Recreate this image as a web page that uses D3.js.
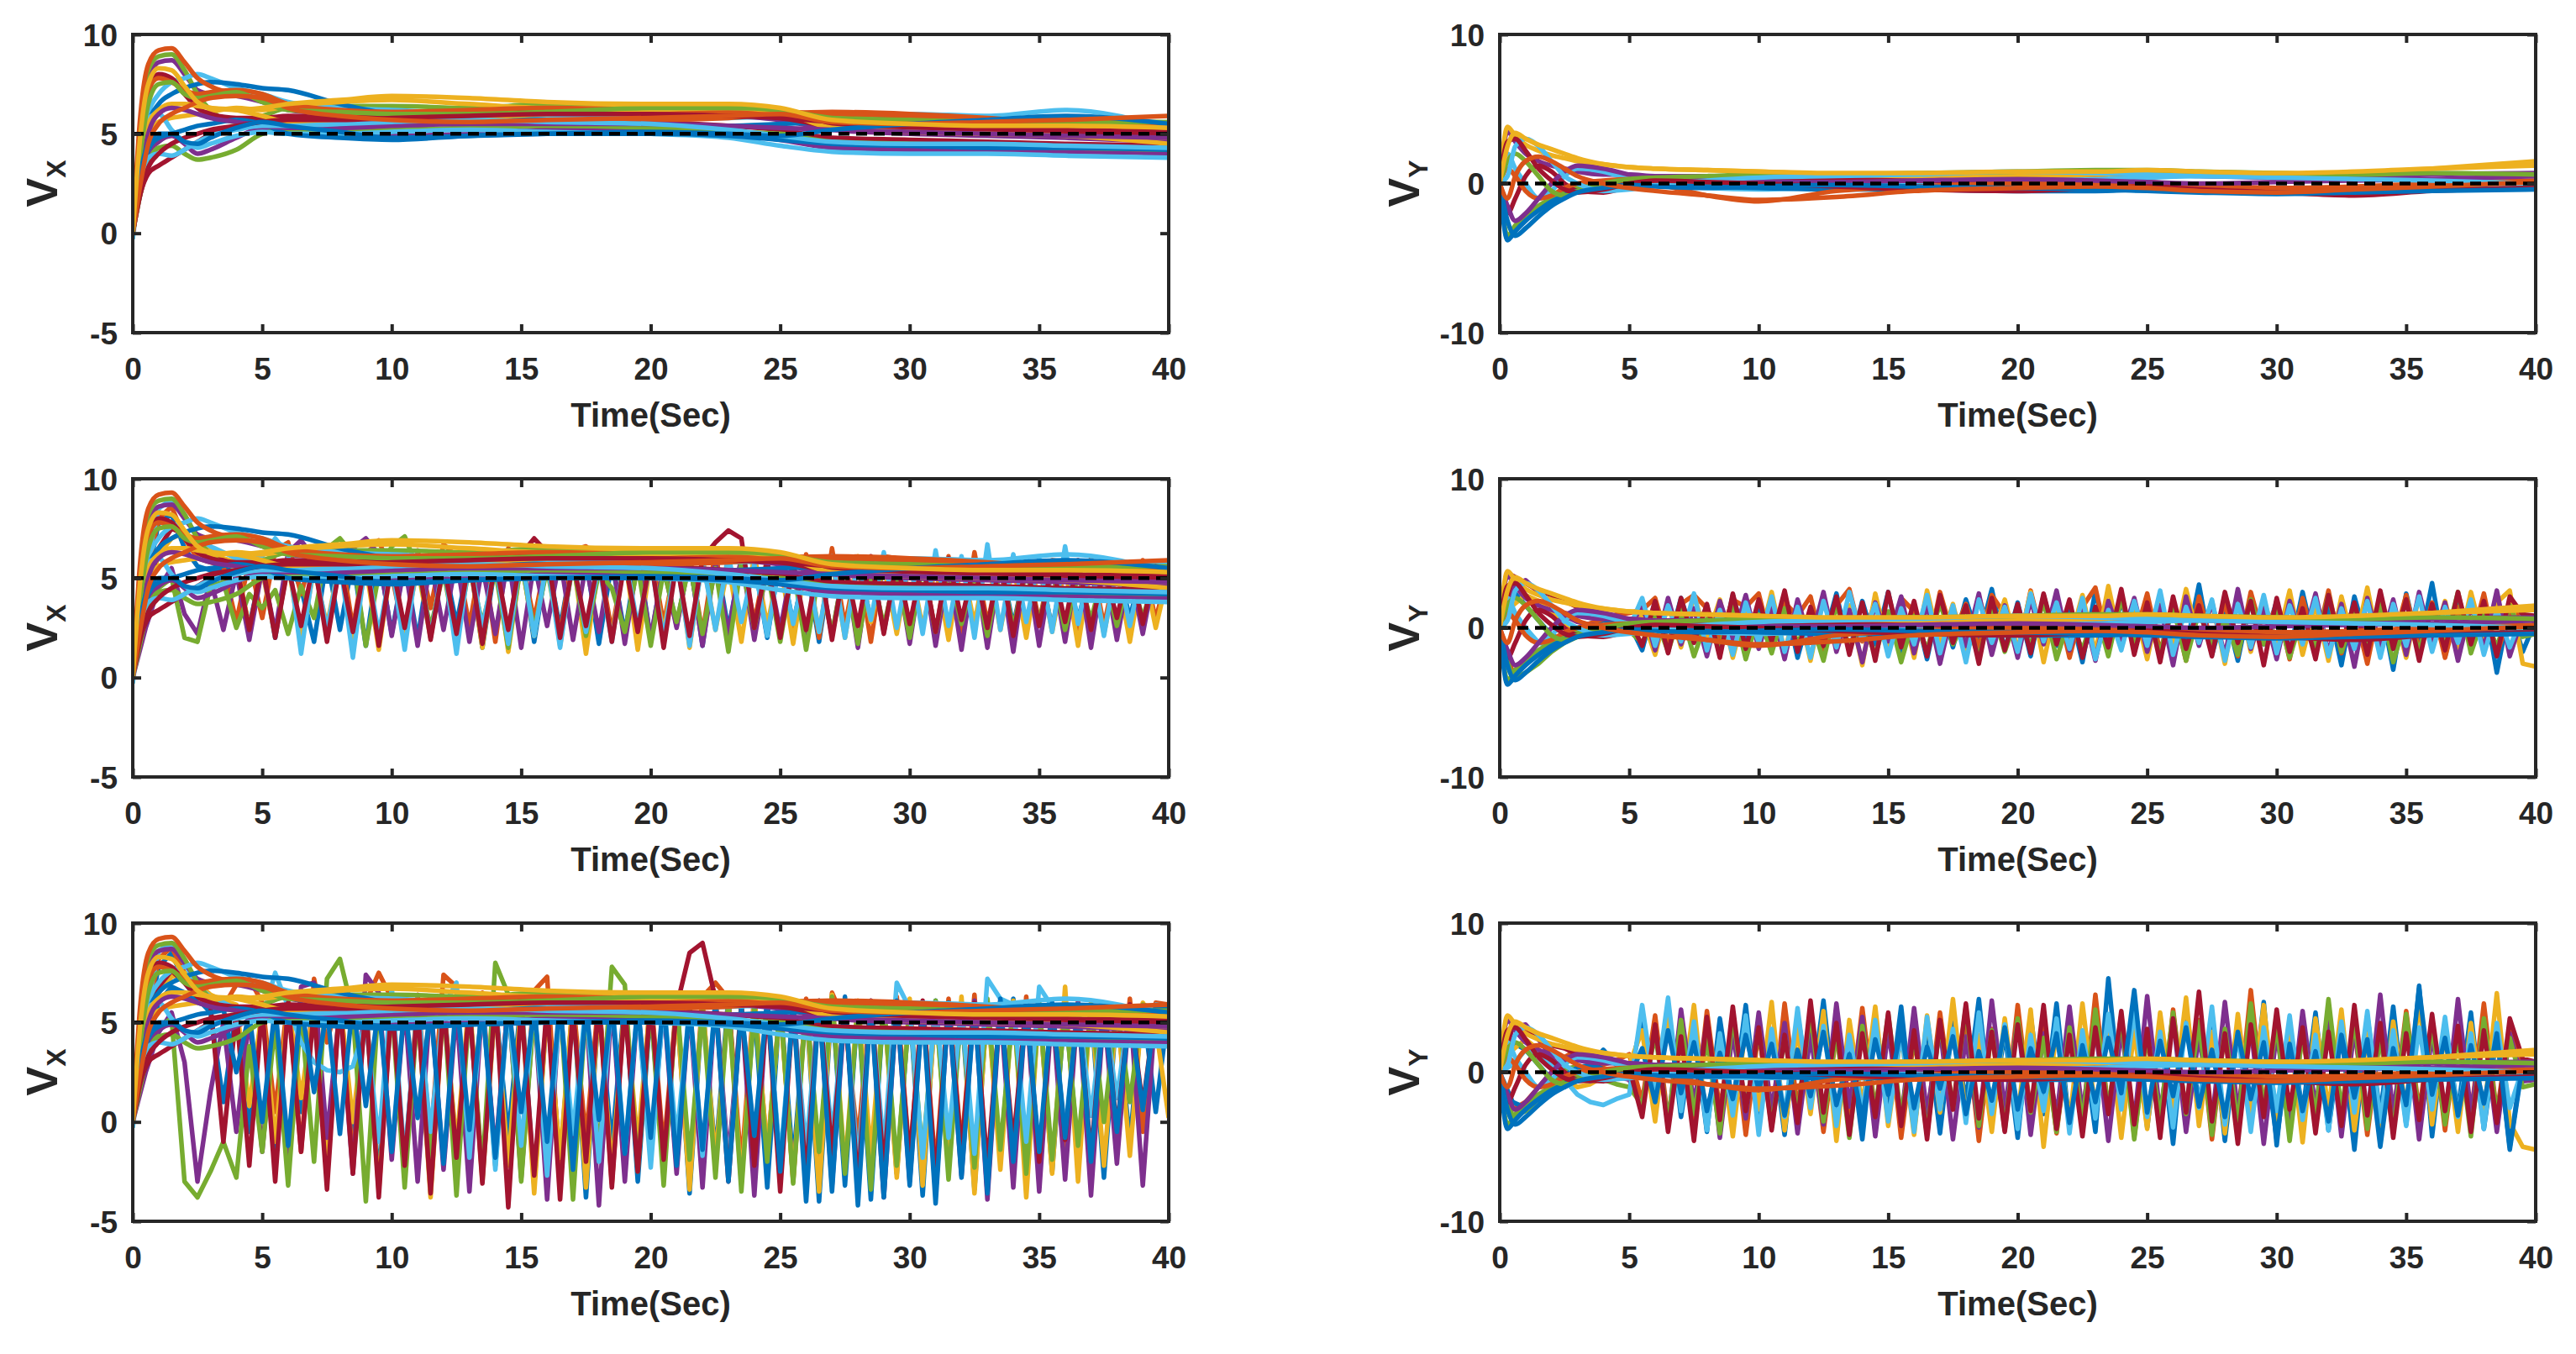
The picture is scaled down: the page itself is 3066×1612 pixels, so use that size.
<!DOCTYPE html>
<html>
<head>
<meta charset="utf-8">
<script src="https://cdn.jsdelivr.net/npm/d3@7"></script>
<style>
  body { margin: 0; background: #fff; }
</style>
</head>
<body>
<script>
// sample times
var tS = [0, 0.3, 0.6, 1, 1.5, 2, 2.5, 3, 4, 5, 6, 8, 10, 13, 16, 20, 23, 25, 27, 30, 33, 36, 40];
var tD = [0, 0.5, 1, 1.5, 2, 2.5, 3, 3.5, 4, 4.5, 5, 5.5, 6, 6.5, 7, 7.5, 8, 8.5, 9, 9.5,
          10, 10.5, 11, 11.5, 12, 12.5, 13, 13.5, 14, 14.5, 15, 15.5, 16, 16.5, 17, 17.5, 18, 18.5, 19, 19.5,
          20, 20.5, 21, 21.5, 22, 22.5, 23, 23.5, 24, 24.5, 25, 25.5, 26, 26.5, 27, 27.5, 28, 28.5, 29, 29.5,
          30, 30.5, 31, 31.5, 32, 32.5, 33, 33.5, 34, 34.5, 35, 35.5, 36, 36.5, 37, 37.5, 38, 38.5, 39, 39.5, 40];

var xTicks = [0, 5, 10, 15, 20, 25, 30, 35, 40];
var vxTicks = [-5, 0, 5, 10];
var vyTicks = [-10, 0, 10];
var vxRef = 5;
var vyRef = 0;

// V_X agents that settle smoothly (values at tS)
var vxSmooth = [
  [0, 4.5, 7.5, 8.6, 8.7, 8.0, 7.2, 7.0, 6.9, 6.6, 6.2, 6.0, 5.9, 5.9, 6.0, 6.0, 5.9, 5.7, 5.2, 5.0, 4.9, 4.8, 4.6],
  [0, 5.5, 8.2, 8.9, 9.0, 8.2, 7.0, 6.2, 5.6, 5.9, 6.3, 6.4, 6.4, 6.3, 6.5, 6.5, 6.4, 6.2, 5.6, 5.4, 5.3, 5.2, 5.0],
  [-0.3, 3.0, 6.0, 7.0, 7.6, 7.8, 8.0, 7.8, 7.3, 7.0, 6.6, 6.3, 6.2, 6.0, 5.9, 5.8, 5.8, 5.9, 6.0, 6.0, 5.9, 6.2, 5.3],
  [0, 2.0, 3.0, 3.4, 3.8, 4.2, 4.6, 5.0, 5.4, 5.6, 5.5, 5.4, 5.5, 5.6, 5.7, 5.6, 5.4, 5.2, 4.8, 4.7, 4.6, 4.5, 4.4],
  [0, 3.5, 5.5, 6.5, 7.0, 7.3, 7.5, 7.6, 7.5, 7.3, 7.2, 6.5, 6.0, 5.8, 5.7, 5.5, 5.4, 5.5, 5.6, 5.8, 5.7, 5.5, 5.2],
  [0, 6.0, 8.5, 9.2, 9.3, 8.6, 7.8, 7.4, 7.0, 6.8, 6.5, 6.1, 5.8, 5.6, 5.6, 5.7, 5.8, 6.0, 6.1, 6.0, 5.8, 5.5, 5.1],
  [0, 3.0, 5.0, 5.6, 5.8, 5.9, 6.0, 6.1, 6.3, 6.2, 6.4, 6.6, 6.7, 6.5, 6.3, 6.3, 6.2, 6.0, 5.6, 5.4, 5.2, 5.0, 4.8],
  [0, 2.5, 4.0, 4.6, 4.9, 4.5, 4.0, 4.2, 4.8, 5.3, 5.2, 5.0, 4.9, 5.0, 5.2, 5.2, 5.0, 4.7, 4.3, 4.2, 4.1, 4.1, 4.0],
  [0, 2.0, 3.5, 4.3, 4.4, 4.0, 3.7, 3.8, 4.2, 5.0, 5.2, 5.1, 5.2, 5.3, 5.4, 5.3, 5.1, 5.0, 4.6, 4.5, 4.4, 4.3, 4.2],
  [0, 4.0, 5.8, 6.0, 5.2, 4.6, 4.3, 4.5, 4.9, 5.1, 5.0, 5.0, 5.1, 5.2, 5.1, 5.0, 4.8, 4.4, 4.1, 4.0, 4.0, 3.9, 3.8],
  [0, 4.5, 7.0, 8.0, 7.8, 7.0, 6.3, 6.0, 5.8, 5.8, 5.9, 5.8, 5.9, 6.0, 6.1, 6.1, 6.0, 5.8, 5.4, 5.3, 5.2, 5.1, 4.9],
  [0, 2.5, 4.2, 4.8, 5.0, 5.2, 5.4, 5.5, 5.7, 5.5, 5.0, 4.8, 4.7, 4.9, 5.0, 5.0, 4.9, 4.7, 4.5, 4.4, 4.3, 4.3, 4.2],
  [0, 5.0, 7.2, 7.8, 7.6, 7.2, 7.0, 7.1, 7.2, 7.0, 6.5, 6.2, 6.1, 6.2, 6.3, 6.2, 6.1, 6.1, 6.0, 5.9, 5.7, 5.6, 5.5],
  [0, 3.5, 5.5, 6.2, 6.5, 6.5, 6.4, 6.3, 6.2, 5.9, 5.6, 5.6, 5.7, 5.8, 6.0, 6.2, 6.3, 6.1, 5.3, 5.1, 5.0, 4.9, 4.5],
  [0, 3.0, 5.0, 6.0, 6.3, 6.2, 6.0, 5.8, 5.6, 5.4, 5.3, 5.3, 5.4, 5.5, 5.5, 5.5, 5.4, 5.3, 5.2, 5.1, 5.0, 4.9, 4.8],
  [0, 4.0, 6.5, 7.5, 7.6, 7.0, 6.8, 6.9, 7.1, 6.6, 6.2, 6.1, 6.0, 6.0, 6.1, 6.3, 6.3, 6.2, 5.8, 5.7, 5.6, 5.6, 5.6],
  [0, 2.5, 3.8, 4.0, 3.9, 4.2, 4.6, 4.9, 5.2, 5.4, 5.4, 5.5, 5.6, 5.7, 5.6, 5.5, 5.2, 4.9, 4.6, 4.5, 4.5, 4.4, 4.3],
  [0, 2.0, 3.3, 4.0, 4.5, 4.8, 5.0, 5.2, 5.4, 5.6, 5.7, 5.7, 5.8, 5.9, 6.0, 6.0, 5.9, 5.8, 5.6, 5.4, 5.3, 5.2, 5.1],
  [0, 3.0, 4.5, 5.0, 5.0, 4.6, 4.5, 4.8, 5.3, 5.6, 5.4, 5.1, 4.8, 4.9, 5.0, 5.1, 5.0, 4.9, 5.2, 5.5, 5.7, 5.9, 5.5],
  [0, 2.5, 4.5, 5.5, 6.0, 6.3, 6.6, 6.8, 6.9, 6.8, 6.3, 5.9, 5.7, 5.6, 5.7, 5.8, 5.9, 6.0, 5.6, 5.5, 5.6, 5.7, 5.9],
  [0, 5.0, 7.5, 8.3, 8.2, 7.4, 6.6, 6.3, 6.2, 6.3, 6.5, 6.7, 6.9, 6.8, 6.6, 6.5, 6.5, 6.3, 5.7, 5.5, 5.4, 5.4, 5.3]
];

// V_Y agents that settle smoothly (values at tS)
var vySmooth = [
  [0, 3.5, 2.8, 2.0, 1.5, 1.2, 1.0, 0.8, 0.6, 0.6, 0.5, 0.5, 0.4, 0.3, 0.3, 0.4, 0.5, 0.6, 0.5, 0.4, 0.4, 0.6, 0.7],
  [0, -3.5, -2.8, -2.2, -1.5, -1.0, -0.6, -0.3, 0.0, 0.1, 0.0, -0.1, -0.2, -0.2, -0.1, -0.2, -0.3, -0.2, -0.3, -0.4, -0.3, -0.4, -0.3],
  [0, 2.0, 1.0, 0.0, -1.0, -0.5, 0.5, 1.0, 0.8, 0.3, 0.0, -0.3, -0.4, -0.2, 0.0, 0.2, 0.3, 0.4, 0.5, 0.5, 0.3, 0.2, 0.1],
  [0, -2.0, -1.0, 0.5, 1.2, 0.8, 0.0, -0.5, -0.6, -0.2, 0.1, 0.2, 0.3, 0.3, 0.2, 0.1, 0.0, -0.1, -0.2, -0.3, -0.5, -0.4, -0.3],
  [0, -3.8, -3.2, -2.5, -1.8, -1.2, -0.8, -0.5, -0.3, -0.2, -0.1, -0.2, -0.3, -0.4, -0.4, -0.5, -0.5, -0.4, -0.5, -0.6, -0.5, -0.4, -0.3],
  [0, 1.0, 0.5, -0.5, -1.0, -0.8, -0.3, 0.0, 0.2, 0.3, 0.0, -0.8, -1.2, -0.5, -0.2, 0.0, 0.0, 0.1, -0.2, -0.3, -0.2, 0.0, 0.2],
  [0, 3.8, 3.2, 2.6, 2.2, 1.9, 1.7, 1.5, 1.3, 1.1, 1.0, 0.9, 0.8, 0.6, 0.5, 0.5, 0.6, 0.7, 0.6, 0.6, 0.7, 1.0, 1.5],
  [0, -1.5, -2.5, -2.0, -1.0, 0.0, 0.8, 1.2, 1.0, 0.6, 0.3, 0.2, 0.1, 0.1, 0.2, 0.3, 0.2, 0.1, 0.0, 0.1, 0.2, 0.3, 0.5],
  [0, 1.5, 2.0, 1.5, 0.5, -0.5, -0.8, -0.5, 0.0, 0.3, 0.4, 0.5, 0.6, 0.6, 0.7, 0.8, 0.9, 0.9, 0.8, 0.7, 0.6, 0.7, 0.6],
  [0, 0.5, 2.5, 3.0, 2.5, 1.5, 0.5, 0.0, -0.5, -0.4, -0.1, 0.2, 0.4, 0.5, 0.6, 0.8, 0.7, 0.6, 0.5, 0.4, 0.3, 0.2, 0.0],
  [0, 2.8, 3.0, 2.2, 1.0, 0.2, -0.4, -0.6, -0.4, 0.0, 0.2, 0.1, 0.0, -0.2, -0.4, -0.5, -0.3, -0.2, -0.4, -0.6, -0.8, -0.5, -0.3],
  [0, -2.5, -3.5, -3.0, -2.2, -1.5, -1.0, -0.6, -0.3, -0.1, -0.2, -0.3, -0.2, -0.1, -0.2, -0.3, -0.4, -0.5, -0.6, -0.7, -0.6, -0.5, -0.4],
  [0, -1.0, 0.5, 1.5, 1.8, 1.5, 1.0, 0.5, 0.0, -0.3, -0.5, -0.8, -1.1, -0.9, -0.5, -0.3, -0.2, -0.3, -0.5, -0.6, -0.4, -0.2, 0.1],
  [0, 2.5, 3.4, 3.0, 2.6, 2.3, 2.0, 1.7, 1.3, 1.1, 1.0, 0.9, 0.8, 0.7, 0.7, 0.8, 0.8, 0.9, 0.8, 0.7, 0.8, 1.0, 1.2]
];

// oscillating V_X agents, middle row (values at tD)
var vxNoisyMid = [
  [0, 4.5, 7.8, 8.2, 6.5, 5.6, 5.4, 5.5, 5.3, 2.6, 5.6, 2.0, 5.8, 4.5, 1.8, 6.0, 2.4, 5.9, 1.6, 6.1,
   2.2, 5.8, 1.9, 6.3, 5.9, 2.7, 6.0, 1.5, 5.7, 2.3, 6.2, 1.8, 5.9, 2.5, 6.1, 6.0, 1.7, 5.8, 2.2, 6.3,
   1.9, 5.7, 2.6, 6.0, 1.6, 6.2, 2.4, 5.9, 5.8, 2.0, 6.1, 2.7, 5.8, 1.8, 6.0, 2.3, 5.9, 2.9, 5.6, 5.5,
   2.4, 5.7, 2.1, 5.8, 2.8, 5.6, 2.2, 5.9, 2.6, 5.7, 5.6, 2.5, 5.8, 2.9, 5.5, 2.3, 5.7, 3.0, 5.6, 5.5, 5.4],
  [0, 5.0, 8.0, 8.6, 7.0, 6.0, 5.8, 5.6, 2.8, 5.9, 3.0, 6.4, 6.8, 4.2, 6.5, 5.0, 6.6, 2.5, 6.2, 6.9,
   5.2, 2.0, 6.4, 3.5, 6.7, 6.1, 2.6, 6.3, 1.8, 6.5, 6.0, 2.9, 6.2, 2.1, 6.4, 6.6, 6.0, 2.3, 6.1, 1.9,
   6.3, 2.7, 6.0, 6.2, 2.2, 6.4, 1.7, 6.1, 2.8, 6.0, 5.9, 2.4, 6.2, 2.0, 6.5, 2.6, 6.0, 1.8, 6.1, 6.0,
   2.5, 5.9, 2.2, 6.1, 1.9, 6.3, 2.7, 5.8, 2.3, 6.0, 2.8, 5.9, 5.8, 2.1, 6.0, 2.6, 5.7, 2.4, 5.9, 2.9, 5.6],
  [0, 3.8, 6.2, 7.0, 7.3, 6.8, 6.4, 6.0, 5.8, 2.5, 5.4, 2.1, 5.7, 1.8, 5.5, 2.6, 5.9, 2.0, 5.6, 1.4,
   5.8, 2.3, 5.5, 2.0, 5.9, 1.7, 6.0, 1.5, 6.1, 1.3, 5.9, 2.1, 6.2, 1.6, 6.0, 1.2, 5.8, 1.9, 6.1, 1.4,
   5.9, 2.2, 6.3, 1.5, 6.0, 2.4, 5.7, 1.8, 6.2, 2.6, 5.8, 1.7, 6.0, 2.3, 5.9, 2.0, 6.1, 2.8, 5.7, 2.2,
   5.9, 2.5, 5.6, 1.9, 5.8, 2.7, 6.2, 2.4, 5.7, 2.0, 5.9, 2.3, 5.6, 1.6, 5.8, 2.2, 5.5, 1.8, 5.7, 2.5, 5.3],
  [0, 2.5, 4.5, 5.5, 3.2, 2.2, 5.0, 2.4, 5.3, 1.9, 5.5, 2.3, 6.3, 6.9, 6.0, 2.0, 5.8, 6.5, 7.0, 6.2,
   2.1, 5.7, 1.6, 5.9, 2.4, 6.0, 1.8, 5.6, 2.2, 6.1, 1.5, 5.8, 2.6, 6.0, 1.9, 5.7, 2.3, 6.2, 1.7, 5.9,
   2.0, 5.6, 2.5, 6.0, 1.6, 5.8, 2.2, 6.1, 1.9, 5.7, 2.4, 5.9, 1.8, 5.6, 2.1, 5.8, 1.5, 6.0, 2.3, 5.7,
   1.7, 5.9, 1.6, 5.6, 1.4, 5.8, 1.5, 5.7, 1.3, 5.9, 1.6, 5.6, 1.8, 5.8, 1.5, 5.7, 1.9, 5.5, 2.2, 5.6, 5.4],
  [0, 3.0, 4.5, 5.0, 2.0, 1.8, 4.6, 4.8, 2.5, 4.2, 3.5, 4.4, 2.2, 4.6, 3.0, 6.5, 7.0, 6.2, 1.6, 5.2,
   6.6, 7.1, 5.5, 2.5, 5.3, 1.9, 5.6, 2.7, 5.4, 1.5, 5.8, 2.4, 5.5, 1.9, 5.7, 2.1, 5.3, 4.5, 2.3, 5.6,
   1.6, 5.4, 2.8, 5.7, 2.2, 5.5, 1.3, 5.8, 2.5, 5.4, 1.8, 5.6, 1.4, 5.3, 2.2, 5.7, 1.7, 5.5, 2.6, 5.4,
   2.0, 5.6, 2.3, 5.5, 2.7, 5.3, 2.1, 5.6, 2.5, 5.4, 2.8, 5.5, 2.4, 5.2, 2.9, 5.4, 2.6, 5.3, 3.0, 5.2, 5.1],
  [0, 5.5, 8.5, 9.0, 8.2, 7.0, 6.6, 6.3, 6.0, 5.9, 6.1, 7.0, 6.2, 1.2, 5.8, 2.4, 5.9, 1.0, 6.0, 2.2,
   5.7, 1.4, 6.1, 2.0, 5.9, 1.2, 6.0, 2.5, 5.8, 1.7, 6.2, 2.1, 5.9, 1.5, 6.0, 2.3, 5.7, 1.8, 6.1, 2.6,
   5.8, 2.0, 6.0, 1.6, 5.9, 2.4, 6.2, 2.8, 5.7, 2.1, 6.0, 2.7, 5.8, 2.3, 6.1, 2.0, 5.9, 2.9, 6.3, 2.5,
   6.0, 2.2, 6.4, 2.6, 6.1, 2.0, 6.7, 2.4, 6.2, 2.8, 6.0, 2.3, 6.6, 2.7, 5.9, 2.1, 5.8, 2.6, 5.7, 5.8, 5.7],
  [0, 4.0, 6.5, 7.5, 7.2, 6.4, 6.0, 5.9, 5.7, 2.4, 5.8, 2.0, 5.6, 2.6, 5.9, 1.8, 5.7, 2.3, 6.0, 1.6,
   5.8, 2.5, 6.1, 1.9, 5.7, 2.2, 6.0, 1.7, 5.9, 2.4, 6.2, 7.0, 6.3, 2.0, 5.8, 2.6, 6.0, 1.8, 5.9, 2.3,
   6.1, 1.5, 5.8, 2.1, 6.0, 6.8, 7.4, 7.0, 2.5, 5.9, 2.0, 5.7, 2.4, 6.0, 1.9, 5.8, 2.6, 6.1, 2.2, 5.9,
   2.7, 5.8, 2.3, 6.0, 2.9, 5.7, 2.5, 5.9, 2.1, 5.8, 2.6, 5.7, 2.8, 5.9, 2.4, 5.6, 3.0, 5.8, 2.7, 5.6, 5.5]
];

// oscillating V_X agents, bottom row (values at tD)
var vxNoisyLow = [
  [0, 4.5, 7.8, 8.5, 7.0, 6.2, 5.5, 1.0, 5.6, -0.5, 5.8, -1.8, 6.0, 0.5, 5.7, -2.5, 6.1, -1.0, 5.9, -3.0,
   6.0, -2.0, 5.8, -3.5, 6.2, -1.5, 5.9, -2.8, 6.0, -0.8, 6.3, -3.2, 5.7, -2.0, 6.1, -3.8, 5.9, -1.2, 6.2, -3.0,
   5.8, -2.4, 6.0, -3.6, 5.9, -1.7, 6.3, -2.9, 5.7, -3.3, 6.1, -2.1, 5.9, -4.0, 6.2, -3.2, 5.8, -3.9, 6.0, -2.6,
   5.9, -3.7, 6.1, -2.2, 5.8, -3.4, 6.0, -1.9, 6.2, -3.0, 5.9, -2.5, 6.0, -1.6, 5.8, -2.8, 5.7, -1.0, 5.9, 0.5, 5.8],
  [0, 5.0, 8.2, 8.8, 7.5, 6.4, 6.0, 5.8, 6.9, 7.2, 6.0, 0.5, 6.3, -1.5, 7.2, 4.0, 6.6, -2.0, 6.0, 7.5,
   6.2, -2.5, 6.4, -1.0, 7.4, 6.8, -3.0, 6.5, -2.2, 6.3, -1.8, 6.6, 7.3, -2.6, 6.2, -0.9, 6.4, -3.1, 6.0, -2.0,
   6.5, -1.4, 6.1, -2.8, 6.3, 7.0, 6.2, -2.3, 6.4, -1.6, 6.0, -3.0, 6.2, -2.1, 6.5, 5.0, -1.0, 6.1, -2.7, 6.3,
   -1.9, 6.0, -2.4, 6.2, -1.3, 6.4, -2.9, 6.1, -1.7, 6.3, -2.2, 6.0, -1.5, 6.1, -2.6, 5.9, -1.2, 6.2, -0.5, 6.0, 5.9],
  [0, 3.8, 6.5, 7.3, 7.5, 7.0, 6.4, 6.1, 5.9, 0.8, 5.7, -1.0, 6.0, 1.2, 5.8, -2.0, 6.1, 0.0, 5.9, -3.5,
   6.2, -2.6, 5.8, -3.8, 6.0, -1.2, 6.3, -3.0, 5.9, -2.2, 6.1, -3.6, 5.7, -1.8, 6.2, -3.3, 5.9, -2.5, 6.0, -1.1,
   6.3, -2.7, 5.8, -3.4, 6.1, -2.0, 5.9, -3.1, 6.2, -1.5, 5.8, -2.9, 6.0, -3.5, 6.4, -2.3, 6.1, -1.6, 5.9, -2.8,
   6.2, -3.2, 5.8, -2.1, 6.3, -3.6, 6.0, -2.4, 6.1, -3.8, 5.9, -2.6, 6.8, -3.0, 6.0, -2.2, 5.8, -1.7, 6.0, 4.8, 0.2],
  [0, 2.5, 4.5, 5.5, 3.0, -3.0, 1.5, 5.0, -0.5, 5.3, -1.5, 5.6, -2.2, 6.8, 7.0, -0.8, 5.8, -2.6, 7.4, 6.5,
   -1.9, 5.9, -3.0, 6.1, -2.4, 5.7, -3.5, 6.0, -1.6, 6.2, -2.8, 5.8, -3.9, 6.0, -2.1, 5.7, -4.2, 6.1, -3.0, 5.9,
   -1.8, 6.0, -2.6, 5.8, -3.3, 6.2, -2.0, 5.9, -3.7, 6.1, -2.5, 5.8, -1.9, 6.0, -3.2, 5.7, -2.4, 6.1, -3.8, 5.9,
   -3.0, 6.0, -3.6, 5.8, -2.7, 6.1, -3.9, 5.9, -3.3, 6.0, -3.5, 5.8, -2.9, 6.0, -3.7, 5.7, -2.1, 5.9, -3.2, 5.8, 5.6],
  [0, 3.0, 4.8, 5.2, -3.0, -3.8, -2.5, -1.0, -2.8, 3.8, -1.5, 5.0, -3.2, 5.5, -2.0, 7.2, 8.2, 5.5, -4.0, 6.3,
   5.9, -3.3, 5.6, -1.8, 6.1, -3.7, 5.8, -2.4, 8.0, 6.4, -3.0, 5.7, -2.2, 6.0, -3.9, 5.8, -1.6, 7.8, 6.9, -2.5,
   5.9, -3.2, 6.2, -1.9, 5.7, -2.8, 6.0, -3.5, 5.8, -2.0, 6.1, -3.1, 5.9, -1.5, 6.3, -2.6, 5.8, -3.4, 6.0, -2.2,
   5.7, -1.7, 6.1, -2.9, 5.9, -2.3, 6.2, -1.4, 5.8, -2.6, 6.0, -1.9, 5.7, -1.2, 5.9, 0.0, 5.8, 1.0, 5.9, 5.7, 5.6],
  [0, 5.5, 8.6, 9.0, 8.0, 6.8, 6.3, 6.0, 5.7, 5.5, 5.2, 7.5, 5.8, 4.0, 3.0, 2.6, 2.5, 2.8, 5.0, -1.0,
   6.8, -2.0, 6.0, -0.5, 5.8, 7.0, -1.8, 6.2, -2.4, 5.9, -1.2, 6.1, -2.7, 5.8, -0.6, 6.0, -2.0, 6.3, -1.5, 5.9,
   -2.3, 6.1, -0.9, 5.8, -1.7, 6.2, -2.6, 5.9, -1.1, 6.0, -2.0, 5.8, -1.4, 6.1, -0.7, 5.9, -2.2, 6.0, -1.3, 7.0,
   5.7, -1.8, 6.0, -0.8, 5.8, -1.6, 7.2, 6.2, 5.9, -1.0, 6.8, 5.8, -0.5, 5.9, 0.3, 5.7, 1.2, 5.8, 5.7, 5.9, 5.8],
  [0, 4.0, 6.8, 7.6, 7.0, 6.3, 5.9, -1.0, 5.6, -2.2, 5.8, -3.0, 6.0, -1.5, 5.7, -3.4, 6.2, -2.6, 5.9, -3.8,
   6.1, -2.2, 5.8, -3.6, 6.0, -1.8, 5.9, -3.1, 6.3, -4.3, 5.8, -2.7, 6.0, -3.9, 5.7, -2.0, 6.1, -3.3, 5.9, -2.5,
   6.2, -1.9, 5.8, 8.5, 9.0, 6.2, -3.0, 5.9, -2.2, 6.0, -3.5, 5.8, -2.8, 6.1, -1.6, 5.9, -3.2, 6.0, -2.4, 5.8,
   -1.9, 6.1, -2.9, 5.9, -1.5, 6.0, -2.3, 5.8, -1.1, 6.0, -2.0, 5.9, -0.9, 5.8, -1.7, 6.0, -0.4, 5.9, 0.8, 5.8, 5.7],
  [0, 3.5, 6.0, 6.8, 6.5, 6.0, 5.8, 5.7, 2.5, 5.5, 0.0, 5.8, -1.2, 6.0, 1.5, 5.7, -0.6, 6.1, 0.8, 5.9,
   -1.5, 6.0, 0.2, 5.8, -2.1, 6.2, -0.4, 5.9, -1.8, 6.0, 0.5, 5.7, -1.0, 6.1, -2.4, 5.8, 0.1, 6.0, -1.6, 5.9,
   -0.8, 6.2, -2.2, 5.9, -1.4, 6.0, -3.0, 5.7, -0.7, 6.1, -2.5, 5.8, -4.0, 6.0, -3.5, 6.3, -4.2, 5.9, -3.8, 6.1,
   -3.2, 5.8, -4.1, 6.0, -2.8, 5.9, -3.6, 6.2, -2.0, 5.8, -1.5, 6.0, -0.8, 5.9, -2.0, 5.8, -0.5, 5.7, 0.6, 5.8, 5.7]
];

// oscillating V_Y agents, middle row (values at tD)
var vyNoisyMid = [
  [0, 2.5, 1.5, 0.5, -0.5, -0.8, -0.3, 0.2, 0.5, 0.4, 0.3, -1.5, 1.8, -1.2, 2.0, -0.8, 1.5, -1.8, 2.2, -1.0,
   1.6, -1.4, 2.0, -2.0, 1.2, -0.9, 2.3, -1.6, 1.8, -1.1, 2.4, -1.7, 1.5, -2.1, 2.0, -1.3, 1.9, -0.8, 2.6, -1.5,
   1.7, -1.9, 2.2, -1.2, 1.4, -2.3, 2.5, -1.6, 1.8, -1.0, 2.1, -2.0, 1.6, -1.4, 2.9, -1.8, 1.3, -2.2, 2.0, -1.1,
   1.8, -1.7, 2.4, -1.3, 1.5, -2.5, 2.1, -1.0, 1.7, -2.8, 2.3, -1.4, 3.0, -1.9, 1.6, -1.2, 2.0, -3.0, 1.4, -1.6, 0.5],
  [0, -3.0, -2.4, -1.8, -1.0, -0.4, 0.0, 0.3, 0.6, 0.9, 1.0, 1.2, 2.0, -1.0, 1.6, 2.2, 1.3, -0.7, 1.9, 1.4,
   2.3, -1.2, 1.7, 0.8, 2.1, -1.5, 1.5, 2.6, -0.9, 1.8, -1.3, 2.0, 1.1, -1.8, 2.4, -0.6, 1.6, -1.4, 2.2, 0.9,
   -1.7, 2.5, -1.0, 1.8, -2.0, 1.4, 2.7, -1.2, 1.9, -0.8, 2.3, -1.6, 1.5, -2.2, 2.1, -1.1, 1.7, -1.9, 2.4, -0.7,
   1.6, -2.1, 2.0, -1.3, 2.5, -1.7, 1.2, -2.4, 1.9, -1.0, 2.2, -1.5, 1.7, -2.0, 1.4, -1.1, 2.3, -1.8, 1.0, 0.8, 0.6],
  [0, 1.5, 2.2, 1.8, 1.0, 0.3, -0.2, -0.4, -0.3, 0.0, 0.2, 0.8, -1.8, 1.6, -1.3, 2.2, -0.7, 1.9, -2.0, 1.4,
   -1.1, 2.4, -1.6, 1.7, -2.2, 2.0, -0.9, 1.5, -2.5, 2.3, -1.4, 1.8, -2.0, 2.5, -1.2, 1.6, -1.9, 2.1, -0.8, 1.9,
   -1.5, 2.4, -2.3, 1.7, -1.0, 2.2, -1.7, 2.8, -1.3, 1.5, -2.1, 2.0, -1.4, 2.6, -0.9, 1.8, -2.4, 2.3, -1.6, 1.9,
   -1.1, 2.5, -1.8, 1.6, -2.2, 2.1, -1.3, 2.7, -1.7, 1.4, -2.0, 2.2, -1.2, 1.8, -1.6, 2.4, -0.9, 1.7, 2.5, -2.4, -2.6],
  [0, 2.8, 3.2, 2.4, 1.5, 0.8, 0.4, 0.2, 0.1, 0.0, -0.2, 1.6, -1.5, 2.0, -1.1, 1.3, -1.9, 1.8, -0.8, 2.2,
   -1.4, 1.5, -2.1, 1.9, -1.0, 2.4, -1.6, 1.2, -2.3, 1.7, -0.9, 2.1, -1.7, 1.6, -2.4, 1.3, -1.2, 2.3, -1.8, 1.5,
   -2.0, 1.9, -1.1, 2.5, -1.5, 1.4, -2.2, 1.8, -0.8, 2.0, -1.6, 1.5, -2.5, 2.1, -1.2, 1.7, -1.9, 2.6, -1.4, 1.3,
   -2.1, 1.8, -1.0, 2.3, -1.7, 1.6, -2.6, 2.0, -1.3, 1.9, -1.8, 2.4, -1.1, 1.7, -2.2, 1.5, -1.4, 2.5, -1.9, 0.8, 0.4],
  [0, -3.5, -3.0, -2.4, -1.6, -1.0, -0.6, -0.3, -0.1, 0.0, -0.2, -1.0, 0.8, -1.6, 1.2, -1.9, 0.6, -1.3, 1.5, -2.1,
   0.9, -1.7, 1.3, -1.0, 0.7, -2.2, 1.6, -1.4, 0.5, -1.8, 1.1, -2.3, 0.8, -1.5, 1.7, -1.1, 0.6, -2.0, 1.4, -1.6,
   0.9, -1.2, 1.8, -2.1, 0.7, -1.5, 1.3, -1.9, 2.0, -1.0, 0.8, -1.7, 1.5, -2.2, 1.1, -1.3, 0.6, -1.8, 1.9, -1.1,
   1.4, -2.0, 0.9, -1.4, 2.2, -1.6, 1.0, -1.2, 1.7, -2.3, 0.7, -1.5, 1.3, -1.0, 2.4, -1.7, 0.9, -1.3, 1.5, -0.6, -0.4],
  [0, 1.0, 0.0, -1.0, -1.2, -0.8, -0.4, -0.5, -0.3, -0.2, 0.0, 2.0, -1.2, 1.5, -0.9, 2.3, -1.5, 1.2, -1.8, 1.7,
   -1.0, 2.1, -1.6, 1.4, -2.0, 1.8, -1.3, 2.4, -0.8, 1.6, -1.9, 1.3, -1.1, 2.2, -1.7, 1.5, -2.3, 1.9, -1.0, 1.4,
   -1.6, 2.3, -0.9, 1.7, -1.4, 2.0, -2.1, 1.2, -1.5, 1.8, -1.2, 2.5, -1.8, 1.4, -1.0, 1.9, -2.2, 1.6, -1.3, 2.2,
   -1.7, 1.5, -1.1, 2.0, -1.9, 1.3, -1.4, 1.8, -2.0, 1.6, -1.2, 2.1, -1.6, 1.4, -1.0, 1.9, -1.8, 1.2, -1.3, 0.9, 0.5],
  [0, 3.5, 3.0, 2.5, 2.2, 1.8, 1.4, 1.0, 0.8, 0.7, 0.6, -1.2, 1.8, -1.7, 2.0, -1.0, 1.6, -2.0, 2.3, -1.4,
   1.9, -0.9, 2.5, -1.6, 1.4, -1.2, 2.1, -1.8, 1.7, -2.2, 2.4, -1.3, 1.8, -1.9, 2.2, -1.0, 1.5, -2.4, 2.0, -1.5,
   1.6, -1.7, 2.3, -1.1, 1.9, -2.0, 1.4, -1.3, 2.6, -1.8, 1.7, -2.3, 2.1, -1.4, 1.5, -1.9, 2.4, -1.0, 1.8, -2.5,
   2.0, -1.6, 1.3, -2.1, 2.2, -1.2, 1.7, -1.8, 2.5, -1.4, 1.9, -2.2, 1.6, -1.5, 2.4, -1.1, 1.8, -1.9, 2.1, 0.9, 0.8]
];

// oscillating V_Y agents, bottom row (values at tD)
var vyNoisyLow = [
  [0, 2.0, 1.5, 0.5, -0.5, -1.0, -0.5, 0.5, 1.5, 0.5, -0.3, 3.5, -2.5, 4.2, -3.0, 2.8, -4.0, 3.6, -2.2, 4.5,
   -3.4, 2.6, -4.2, 3.9, -1.8, 4.8, -3.0, 2.4, -4.5, 3.7, -2.6, 4.4, -3.8, 2.9, -4.1, 3.5, -2.0, 4.9, -3.3, 2.7,
   -4.4, 3.8, -2.8, 4.6, -3.6, 2.5, -4.0, 6.3, -2.4, 4.1, -3.7, 3.0, -4.8, 4.3, -2.2, 3.6, -4.6, 2.8, -3.1, 4.7,
   -4.9, 3.3, -2.7, 4.0, -3.9, 2.6, -5.2, 3.8, -2.9, 4.4, -3.5, 5.8, -4.3, 3.1, -2.6, 4.0, -3.8, 2.5, -5.0, 0.8, 0.5],
  [0, -2.5, -2.0, -1.0, 0.0, 1.0, 1.5, 1.0, 0.5, 0.8, 1.2, -2.0, 3.8, -3.2, 2.5, -3.8, 4.1, -2.6, 3.3, -4.2,
   2.8, -3.5, 4.6, -2.4, 3.1, -4.0, 2.6, -3.0, 4.3, -2.7, 3.6, -4.4, 2.3, -3.3, 4.0, -2.5, 3.4, -4.6, 2.9, -3.6,
   4.5, -2.8, 3.0, -4.1, 2.7, -3.4, 5.2, -2.6, 3.8, -4.3, 2.5, -3.7, 4.2, -2.9, 3.5, -4.5, 2.8, -3.2, 5.5, -2.4,
   3.3, -4.0, 2.6, -3.5, 4.4, -2.7, 3.0, -4.2, 2.5, -3.1, 4.1, -2.6, 3.4, -3.9, 2.7, -3.0, 4.6, -2.8, 3.2, 0.6, 0.4],
  [0, 1.5, 2.2, 1.5, 0.5, -0.5, -1.0, -0.8, -0.3, 0.2, 0.5, 2.8, -3.3, 3.9, -2.1, 4.5, -3.7, 2.4, -4.3, 3.2,
   -2.5, 4.7, -3.9, 2.9, -2.8, 4.1, -4.6, 3.5, -2.3, 4.4, -3.6, 2.6, -4.2, 3.8, -2.7, 4.9, -3.1, 2.5, -4.0, 3.6,
   -2.9, 4.2, -5.0, 3.0, -3.4, 4.6, -2.6, 3.3, -4.4, 2.8, -3.8, 4.0, -2.4, 5.0, -3.6, 2.7, -4.1, 3.9, -2.8, 4.5,
   -3.3, 2.9, -4.7, 3.6, -2.5, 4.2, -3.9, 2.6, -4.4, 3.4, -2.7, 4.8, -3.5, 2.7, -4.0, 3.3, -2.9, 5.3, -3.4, -5.0, -5.2],
  [0, 3.0, 3.2, 2.2, 1.0, 0.0, -0.5, -0.6, -0.4, -0.3, -0.5, -2.4, 3.0, -3.6, 4.2, -2.2, 3.4, -4.4, 2.7, -3.1,
   4.0, -2.6, 3.3, -4.1, 2.5, -3.5, 4.6, -2.3, 3.7, -4.3, 2.8, -3.2, 4.3, -2.8, 3.0, -4.5, 2.4, -3.7, 4.8, -2.5,
   3.5, -4.2, 2.6, -3.0, 4.4, -2.7, 3.2, -4.6, 2.9, -3.4, 5.1, -2.9, 3.6, -4.0, 2.5, -3.3, 4.7, -2.6, 3.1, -4.8,
   2.7, -3.6, 4.1, -2.4, 3.4, -4.3, 2.9, -3.1, 5.2, -2.8, 3.6, -4.5, 2.6, -3.2, 4.9, -2.7, 3.0, -4.0, 2.6, -0.6, -0.5],
  [0, -3.0, -2.6, -1.8, -0.8, 0.2, 0.4, 0.0, -0.5, -0.8, -1.0, -2.2, 2.6, -3.4, 3.5, -2.8, 2.2, -4.1, 3.8, -2.5,
   2.9, -3.7, 2.4, -2.9, 4.1, -3.3, 2.7, -4.4, 3.1, -2.6, 3.9, -3.0, 2.5, -4.2, 3.3, -2.4, 4.4, -3.6, 2.8, -3.9,
   3.6, -2.7, 2.3, -4.0, 3.0, -3.4, 4.2, -2.5, 3.7, -4.5, 2.6, -3.1, 4.0, -2.8, 3.4, -4.2, 2.9, -3.5, 4.6, -2.4,
   3.2, -4.6, 2.7, -3.0, 4.9, -2.6, 3.5, -3.8, 2.5, -4.1, 3.9, -2.9, 3.1, -3.5, 2.6, -4.3, 3.6, -2.8, 2.3, -1.0, -0.8],
  [0, 0.5, 1.5, 1.2, 0.5, -0.5, -1.5, -2.0, -2.2, -1.8, -1.5, 4.5, -1.5, 5.0, -2.6, 3.4, -3.9, 2.6, -2.9, 3.8,
   -4.2, 2.9, -3.0, 4.3, -2.4, 3.1, -3.6, 2.5, -2.7, 3.5, -3.3, 2.6, -4.0, 3.7, -2.5, 2.9, -3.4, 4.0, -2.8, 3.2,
   -3.8, 2.5, -2.6, 3.6, -4.1, 2.8, -3.1, 3.9, -2.5, 4.2, -3.0, 2.7, -3.7, 3.3, -2.4, 4.4, -3.5, 2.6, -4.0, 3.0,
   -2.6, 3.8, -3.2, 2.5, -3.9, 3.4, -2.7, 4.1, -3.3, 2.8, -3.6, 3.0, -2.5, 3.7, -3.0, 2.6, -3.8, 3.3, -2.4, 0.3, 0.2],
  [0, 3.2, 2.8, 2.2, 1.8, 1.6, 1.2, 0.6, 0.2, 0.0, 0.3, -3.0, 3.2, -4.0, 2.4, -4.6, 3.7, -3.2, 4.4, -2.6,
   3.0, -3.9, 2.5, -3.4, 4.8, -2.7, 3.3, -4.2, 2.6, -3.0, 4.0, -3.6, 2.8, -4.5, 3.5, -2.5, 4.6, -3.1, 2.7, -4.0,
   3.2, -2.6, 4.5, -3.8, 2.5, -4.3, 3.0, -2.8, 4.1, -3.5, 2.9, -4.4, 3.6, -2.7, 5.4, -3.3, 2.6, -4.8, 3.2, -3.0,
   4.2, -2.5, 3.0, -4.1, 2.7, -3.6, 4.5, -2.9, 3.3, -4.4, 2.6, -3.2, 3.9, -2.6, 3.1, -4.0, 2.8, -3.4, 3.6, 0.9, 0.7],
  [0, -2.0, -2.4, -1.8, -1.0, -0.2, 0.3, 0.5, 0.2, -0.2, -0.4, 1.6, -2.0, 2.8, -1.4, 2.0, -2.6, 1.3, -1.8, 2.5,
   -1.2, 1.9, -2.9, 1.5, -1.6, 2.7, -2.2, 1.2, -3.1, 2.2, -1.5, 2.9, -2.4, 1.7, -1.1, 2.4, -2.8, 1.4, -1.9, 3.0,
   -2.5, 1.6, -1.3, 2.6, -3.4, 1.8, -2.0, 2.3, -1.4, 5.5, -2.7, 2.1, -1.6, 3.0, -2.3, 1.5, -3.0, 2.7, -1.8, 2.0,
   -4.5, 1.9, -2.6, 1.4, -3.3, 2.5, -1.7, 2.2, -5.0, 1.6, -2.2, 5.6, -1.5, 2.3, -2.9, 1.8, -2.1, 2.6, -5.2, 0.6, 0.5]
];

var colors = ["#0072BD", "#D95319", "#EDB120", "#7E2F8E", "#77AC30", "#4DBEEE", "#A2142F"];
var ink = "#262626";
var font = "'Liberation Sans', Arial, Helvetica, sans-serif";

var W = 3066, H = 1612;
var plotW = 1233, plotH = 355;
var colLeft = [158, 1785];
var rowTop = [41, 570, 1099];
var lineW = 5.5;

var panels = [
  {col: 0, row: 0, smooth: vxSmooth, noisy: [], dom: [-5, 10], ticks: vxTicks, ref: vxRef, sub: "X"},
  {col: 1, row: 0, smooth: vySmooth, noisy: [], dom: [-10, 10], ticks: vyTicks, ref: vyRef, sub: "Y"},
  {col: 0, row: 1, smooth: vxSmooth, noisy: vxNoisyMid, dom: [-5, 10], ticks: vxTicks, ref: vxRef, sub: "X"},
  {col: 1, row: 1, smooth: vySmooth, noisy: vyNoisyMid, dom: [-10, 10], ticks: vyTicks, ref: vyRef, sub: "Y"},
  {col: 0, row: 2, smooth: vxSmooth, noisy: vxNoisyLow, dom: [-5, 10], ticks: vxTicks, ref: vxRef, sub: "X"},
  {col: 1, row: 2, smooth: vySmooth, noisy: vyNoisyLow, dom: [-10, 10], ticks: vyTicks, ref: vyRef, sub: "Y"}
];

var svg = d3.select("body").append("svg")
    .attr("width", W)
    .attr("height", H);

function toPoints(times, vals) {
    var pts = [];
    for (var i = 0; i < vals.length && i < times.length; i++) pts.push([times[i], vals[i]]);
    return pts;
}

// plain hyphen minus, like the original figure
var fmt = function(d) { return String(d); };

panels.forEach(function(p, k) {
    var x0 = colLeft[p.col], y0 = rowTop[p.row];
    var x = d3.scaleLinear().domain([0, 40]).range([x0, x0 + plotW]);
    var y = d3.scaleLinear().domain(p.dom).range([y0 + plotH, y0]);

    var clipId = "clip" + k;
    svg.append("clipPath").attr("id", clipId)
        .append("rect")
        .attr("x", x0).attr("y", y0)
        .attr("width", plotW).attr("height", plotH);

    var g = svg.append("g").attr("clip-path", "url(#" + clipId + ")");

    var smoothLine = d3.line()
        .x(function(d) { return x(d[0]); })
        .y(function(d) { return y(d[1]); })
        .curve(d3.curveMonotoneX);
    var sharpLine = d3.line()
        .x(function(d) { return x(d[0]); })
        .y(function(d) { return y(d[1]); });

    // oscillating agents first, settled agents on top
    p.noisy.forEach(function(s, i) {
        g.append("path")
            .attr("d", sharpLine(toPoints(tD, s)))
            .attr("fill", "none")
            .attr("stroke", colors[i % 7])
            .attr("stroke-width", lineW)
            .attr("stroke-linejoin", "round");
    });
    p.smooth.forEach(function(s, i) {
        g.append("path")
            .attr("d", smoothLine(toPoints(tS, s)))
            .attr("fill", "none")
            .attr("stroke", colors[(i + 3) % 7])
            .attr("stroke-width", lineW)
            .attr("stroke-linejoin", "round");
    });

    // desired velocity
    g.append("path")
        .attr("d", sharpLine([[0, p.ref], [40, p.ref]]))
        .attr("fill", "none")
        .attr("stroke", "#000")
        .attr("stroke-width", 4.5)
        .attr("stroke-dasharray", "13,8");

    // axes, ticks pointing inward
    var axB = svg.append("g")
        .attr("transform", "translate(0," + (y0 + plotH) + ")")
        .call(d3.axisBottom(x).tickValues(xTicks).tickSize(-10).tickPadding(30).tickFormat(fmt));
    var axT = svg.append("g")
        .attr("transform", "translate(0," + y0 + ")")
        .call(d3.axisTop(x).tickValues(xTicks).tickSize(-10).tickFormat(""));
    var axL = svg.append("g")
        .attr("transform", "translate(" + x0 + ",0)")
        .call(d3.axisLeft(y).tickValues(p.ticks).tickSize(-10).tickPadding(18).tickFormat(fmt));
    var axR = svg.append("g")
        .attr("transform", "translate(" + (x0 + plotW) + ",0)")
        .call(d3.axisRight(y).tickValues(p.ticks).tickSize(-10).tickFormat(""));

    [axB, axT, axL, axR].forEach(function(a) {
        a.select(".domain").remove();
        a.selectAll(".tick line").attr("stroke", ink).attr("stroke-width", 4);
        a.selectAll("text")
            .attr("fill", ink)
            .style("font-family", font)
            .style("font-weight", "bold")
            .style("font-size", "37px");
    });
    axL.selectAll("text").attr("dy", "0.36em");

    svg.append("rect")
        .attr("x", x0).attr("y", y0)
        .attr("width", plotW).attr("height", plotH)
        .attr("fill", "none")
        .attr("stroke", ink)
        .attr("stroke-width", 4);

    // labels
    svg.append("text")
        .attr("x", x0 + plotW / 2)
        .attr("y", y0 + plotH + 112)
        .attr("text-anchor", "middle")
        .attr("fill", ink)
        .style("font-family", font)
        .style("font-weight", "bold")
        .style("font-size", "40px")
        .text("Time(Sec)");

    var yl = svg.append("text")
        .attr("transform", "translate(" + (x0 - (p.col ? 96 : 90)) + "," + (y0 + plotH / 2) + ") rotate(-90)")
        .attr("text-anchor", "middle")
        .attr("fill", ink)
        .style("font-family", font)
        .style("font-weight", "bold");
    yl.append("tspan").style("font-size", "52px").text("V");
    yl.append("tspan").style("font-size", "32px").attr("dy", 10).text(p.sub);
});
</script>
</body>
</html>
